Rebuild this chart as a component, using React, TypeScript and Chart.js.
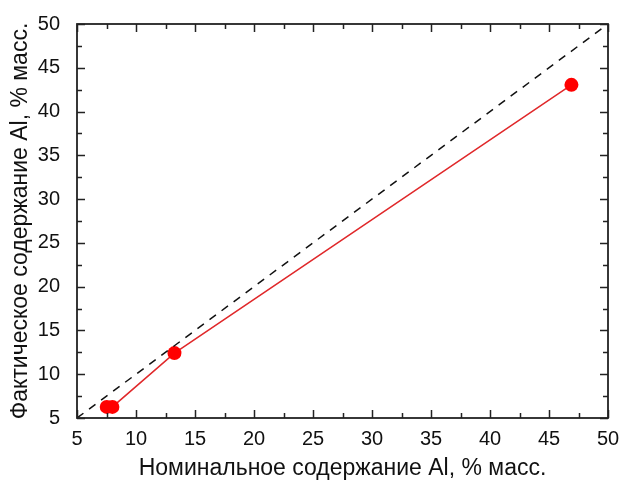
import React, { useEffect, useRef } from "react";
import { Chart, registerables } from "chart.js";
Chart.register(...registerables);

const nominalAl = [7.52, 8.0, 13.26, 46.9];
const actualAl = [6.27, 6.27, 12.41, 43.05];
const idealX = [5, 50];
const idealY = [5, 50];
const xTitle = "Номинальное содержание Al, % масс.";
const yTitle = "Фактическое содержание Al, % масс.";

const FONT = "'Liberation Sans', Arial, sans-serif";

const boxTicks = {
  id: "boxTicks",
  afterDraw(chart: any) {
    const { ctx, chartArea: a, scales } = chart;
    const xs = scales.x, ys = scales.y;
    ctx.save();
    ctx.strokeStyle = "#222";
    ctx.lineWidth = 1.5;
    ctx.beginPath();
    for (let v = 5; v <= 50.001; v += 2.5) {
      const major = Math.abs(v / 5 - Math.round(v / 5)) < 1e-6;
      const L = major ? 8 : 5;
      const px = Math.round(xs.getPixelForValue(v)) + 0.5;
      ctx.moveTo(px, a.bottom); ctx.lineTo(px, a.bottom - L);
      ctx.moveTo(px, a.top); ctx.lineTo(px, a.top + L);
      const py = Math.round(ys.getPixelForValue(v)) + 0.5;
      ctx.moveTo(a.left, py); ctx.lineTo(a.left + L, py);
      ctx.moveTo(a.right, py); ctx.lineTo(a.right - L, py);
    }
    ctx.stroke();
    ctx.lineWidth = 1.8;
    ctx.strokeRect(a.left, a.top, a.right - a.left, a.bottom - a.top);
    ctx.restore();
  },
};

export default function App() {
  const ref = useRef<HTMLCanvasElement>(null);
  useEffect(() => {
    const chart = new Chart(ref.current!, {
      type: "scatter",
      data: {
        datasets: [
          {
            data: idealX.map((x, i) => ({ x, y: idealY[i] })),
            showLine: true,
            borderColor: "#111",
            borderWidth: 1.5,
            borderDash: [8, 7],
            pointRadius: 0,
          },
          {
            data: nominalAl.map((x, i) => ({ x, y: actualAl[i] })),
            showLine: true,
            borderColor: "#e0282a",
            borderWidth: 1.5,
            pointRadius: 7,
            pointBackgroundColor: "#ff0000",
            pointBorderColor: "#ff0000",
            pointBorderWidth: 0,
          },
        ],
      },
      options: {
        responsive: false,
        animation: false,
        layout: { padding: { top: 24, right: 13, left: 0, bottom: 0 } },
        plugins: { legend: { display: false }, tooltip: { enabled: false } },
        scales: {
          x: {
            type: "linear",
            min: 5,
            max: 50,
            grid: { display: false },
            border: { display: false },
            ticks: { stepSize: 5, color: "#111", padding: 1, font: { family: FONT, size: 20 }, maxRotation: 0 },
            title: { display: true, text: xTitle, color: "#111", font: { family: FONT, size: 23 }, padding: { top: 0, bottom: 2 } },
            afterFit: (s: any) => { s.height = 66; s.paddingRight = 0; s.paddingLeft = 0; },
          },
          y: {
            type: "linear",
            min: 5,
            max: 50,
            grid: { display: false },
            border: { display: false },
            ticks: { stepSize: 5, color: "#111", padding: 9, font: { family: FONT, size: 20 } },
            title: { display: true, text: yTitle, color: "#111", font: { family: FONT, size: 23 }, padding: { top: 7, bottom: 0 } },
            afterFit: (s: any) => { s.width = 77; s.paddingTop = 0; s.paddingBottom = 0; },
          },
        },
      },
      plugins: [boxTicks],
    });
    return () => chart.destroy();
  }, []);
  return (
    <div style={{ position: "fixed", left: 0, top: 0, width: 621, height: 484, background: "#fff" }}>
      <canvas ref={ref} width={621} height={484} />
    </div>
  );
}
